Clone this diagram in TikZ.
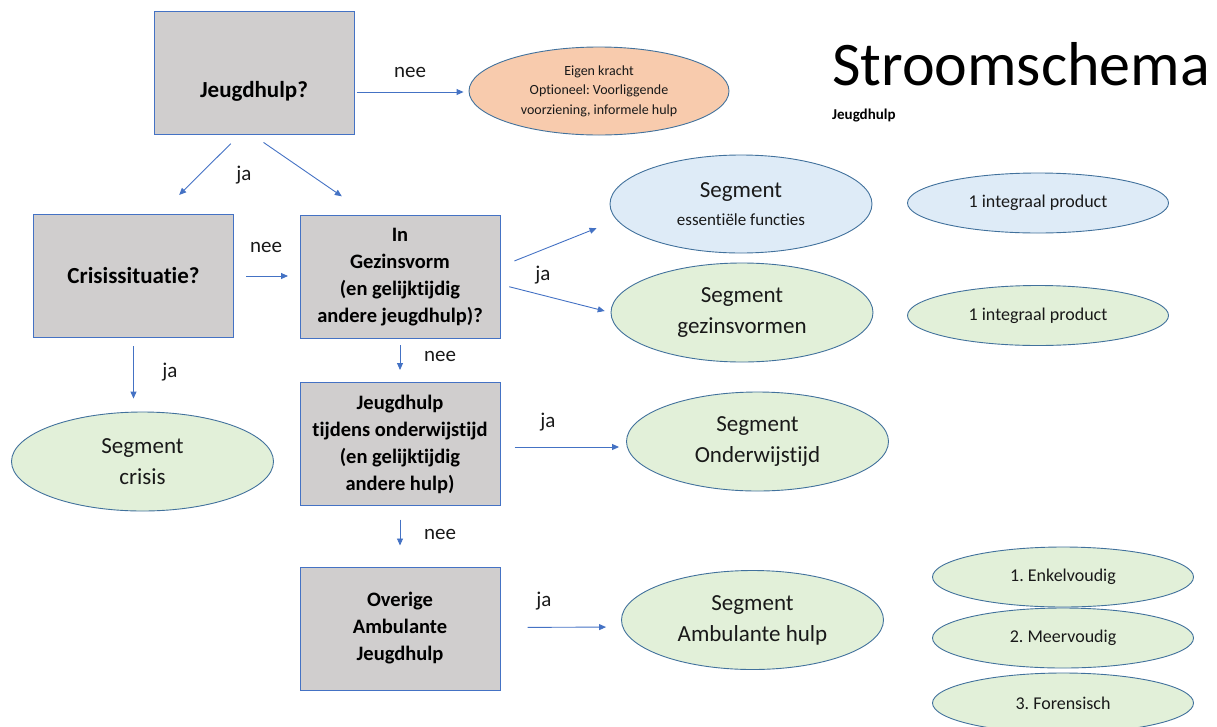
\documentclass[tikz,border=0pt]{standalone}
\usepackage{fontspec}
\setmainfont{Carlito}[Ligatures={NoCommon}]
\usepackage{tikz}
\usetikzlibrary{shapes.geometric}
\usetikzlibrary{arrows.meta}
\frenchspacing

\definecolor{vakgrijs}{HTML}{D0CECE}
\definecolor{vakrand}{HTML}{4472C4}
\definecolor{ovaalrand}{HTML}{41719C}
\definecolor{ovaalgroen}{HTML}{E2F0D9}
\definecolor{ovaalblauw}{HTML}{DEEBF7}
\definecolor{ovaaloranje}{HTML}{F8CBAD}
\definecolor{pijlblauw}{HTML}{4472C4}

\begin{document}
\begin{tikzpicture}[x=1pt, y=-1pt,
    vraag/.style={rectangle, draw=vakrand, fill=vakgrijs, line width=1pt, minimum width=200pt, minimum height=123pt, inner sep=0pt, align=center, font=\bfseries\fontsize{20.5}{27}\selectfont},
    segment/.style={ellipse, draw=ovaalrand, fill=ovaalgroen, line width=0.9pt, minimum width=262pt, minimum height=99pt, inner sep=0pt, align=center, font=\fontsize{23}{31}\selectfont, text=black!90},
    product/.style={ellipse, draw=ovaalrand, fill=ovaalgroen, line width=0.9pt, minimum width=261pt, minimum height=60pt, inner sep=0pt, font=\fontsize{18}{20}\selectfont, text=black!90},
    pijl/.style={draw=pijlblauw, line width=0.9pt, -{Triangle[length=7pt,width=6pt]}},
    keuze/.style={font=\fontsize{21}{25}\selectfont, text=black!90}]
            \useasboundingbox (0,0) rectangle (1217,726);

            % Title
            \node[anchor=base west, inner sep=0pt, font=\fontsize{62}{70}\selectfont] (titel) at (832,85) {Stroomschema};
            \node[anchor=base west, inner sep=0pt, font=\bfseries\fontsize{15}{18}\selectfont] (subtitel) at (832,119) {Jeugdhulp};

            % Nodes
            \node[vraag, font=\bfseries\fontsize{23}{27}\selectfont, text height=52pt, text depth=3pt] (jeugdhulp) at (254,72.5) {Jeugdhulp?};
            \node[vraag, font=\bfseries\fontsize{23}{27}\selectfont] (crisis) at (133.5,276) {Crisissituatie?};
            \node[vraag] (gezin) at (400,277) {In\\Gezinsvorm\\(en gelijktijdig\\andere jeugdhulp)?};
            \node[vraag] (onderwijs) at (400,444) {Jeugdhulp\\tijdens onderwijstijd\\(en gelijktijdig\\andere hulp)};
            \node[vraag] (ambulant) at (400,628.5) {Overige\\Ambulante\\Jeugdhulp};

            \node[segment, fill=ovaaloranje, minimum width=260pt, minimum height=88pt, font=\fontsize{14}{19.5}\selectfont] (eigenkracht) at (599,91) {Eigen kracht\\Optioneel: Voorliggende\\voorziening, informele hulp};
            \node[segment] (segcrisis) at (142.5,461.5) {Segment\\crisis};
            \node[segment, fill=ovaalblauw, minimum height=98pt] (essentieel) at (741,204) {Segment\\[-3pt]{\fontsize{17}{20}\selectfont essentiële functies}};
            \node[segment] (segvormen) at (742,312.5) {Segment\\gezinsvormen};
            \node[segment] (segonderwijs) at (757.5,441.5) {Segment\\Onderwijstijd};
            \node[segment] (segambulant) at (752.5,620) {Segment\\Ambulante hulp};

            \node[product, fill=ovaalblauw] (product1) at (1038,203) {1 integraal product};
            \node[product] (product2) at (1038,315.5) {1 integraal product};
            \node[product] (enkel) at (1063,577) {1. Enkelvoudig};
            \node[product] (meer) at (1063,638) {2. Meervoudig};
            \node[product] (forensisch) at (1063,703) {3. Forensisch};

            % Labels
            \node[keuze] (nee1) at (410,72) {nee};
            \node[keuze] (ja1) at (244,175) {ja};
            \node[keuze] (nee2) at (266,247) {nee};
            \node[keuze] (ja2) at (170,372) {ja};
            \node[keuze] (ja3) at (543,275) {ja};
            \node[keuze] (nee3) at (440,356) {nee};
            \node[keuze] (ja4) at (548,422) {ja};
            \node[keuze] (nee4) at (440,534) {nee};
            \node[keuze] (ja5) at (544,601) {ja};

            % Lines
            \draw[pijl, shorten <=2pt, shorten >=5pt] ([yshift=-19.5pt]jeugdhulp.east) -- ([yshift=-1pt]eigenkracht.west);
            \draw[pijl, shorten <=13pt, shorten >=27pt] ([xshift=-14pt]jeugdhulp.south) -- ([xshift=26.5pt]crisis.north);
            \draw[pijl, shorten <=14pt, shorten >=33pt] ([xshift=-2pt]jeugdhulp.south) -- ([xshift=-31pt]gezin.north);
            \draw[pijl, shorten <=12pt, shorten >=11.5pt] (crisis.east) -- (crisis.east -| gezin.west);
            \draw[pijl, shorten <=8pt, shorten >=13pt] (crisis.south) -- (crisis.south |- segcrisis.north);
            \draw[pijl, shorten <=15pt, shorten >=14pt] ([yshift=10.5pt]gezin.east) -- ([yshift=-19pt]essentieel.west);
            \draw[pijl, shorten <=9pt, shorten >=6pt] ([yshift=-7.5pt]gezin.east) -- (segvormen.west);
            \draw[pijl, shorten <=6pt, shorten >=12pt] (gezin.south) -- (onderwijs.north);
            \draw[pijl, shorten <=14pt, shorten >=7pt] ([yshift=-3pt]onderwijs.east) -- ([yshift=-5.5pt]segonderwijs.west);
            \draw[pijl, shorten <=13.5pt, shorten >=21pt] (onderwijs.south) -- (ambulant.north);
            \draw[pijl, shorten <=27pt, shorten >=15pt] ([yshift=1pt]ambulant.east) -- ([yshift=-7pt]segambulant.west);
        \end{tikzpicture}
\end{document}
